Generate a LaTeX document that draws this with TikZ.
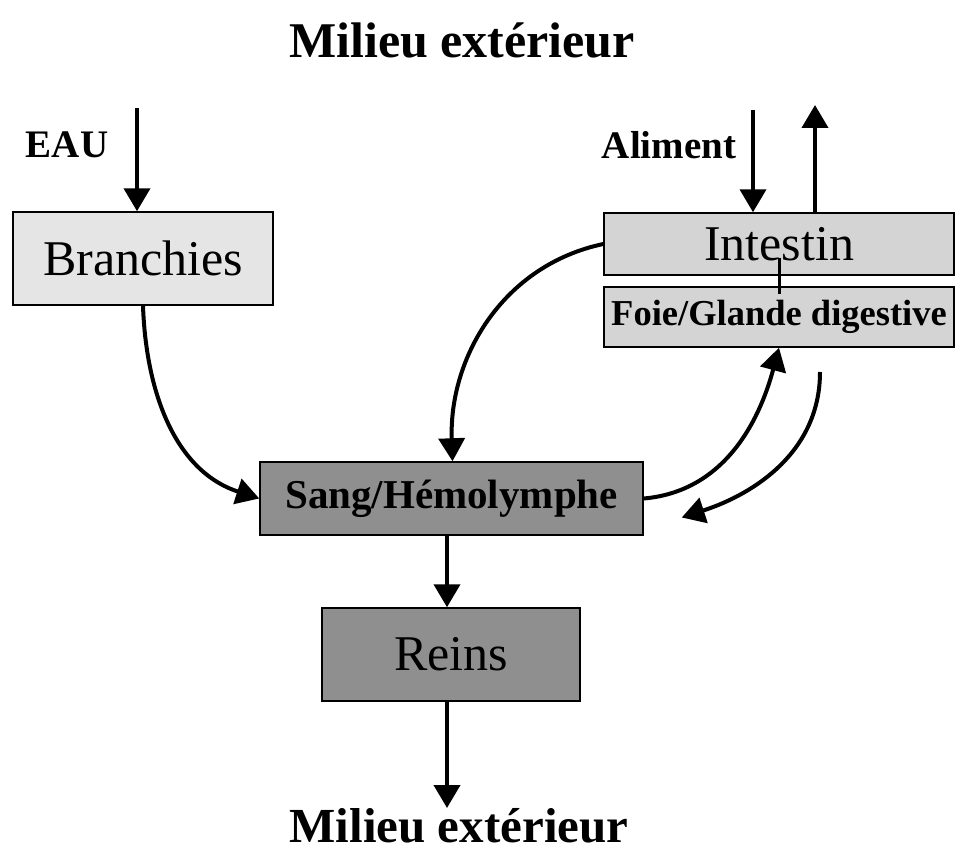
\documentclass[tikz,border=0pt]{standalone}
\usepackage{fontspec}
\setmainfont{Liberation Serif}
\usetikzlibrary{arrows.meta}

\definecolor{pale}{gray}{0.90}
\definecolor{mid}{gray}{0.83}
\definecolor{dark}{gray}{0.56}

\begin{document}
\begin{tikzpicture}[x=1pt, y=1pt,
	box/.style={rectangle, draw=black, line width=1.5pt, inner sep=0pt},
	big/.style={font=\fontsize{50}{55}\selectfont},
	arr/.style={draw=black, line width=4pt, -{Triangle[length=23pt,width=26pt]}}]
			\useasboundingbox (0,0) rectangle (956,-856);
			
			\node[font=\bfseries\fontsize{50}{55}\selectfont] (top) at (462,-40){Milieu extérieur};
			\node[font=\bfseries\fontsize{49}{54}\selectfont] (bot) at (459,-826){Milieu extérieur};
			\node[font=\bfseries\fontsize{39}{44}\selectfont] (eaulbl) at (67,-145){EAU};
			\node[font=\bfseries\fontsize{39}{44}\selectfont] (alim) at (669,-145){Aliment};
			
			\node[box, big, fill=pale, minimum width=260pt, minimum height=93pt] (bra) at (143,-258.5){Branchies};
			\node[box, big, fill=mid, minimum width=350pt, minimum height=62pt] (int) at (779,-244){Intestin};
			\node[box, fill=mid, minimum width=350pt, minimum height=60pt, font=\bfseries\fontsize{36.5}{40}\selectfont] (foie) at (779,-317){Foie/Glande digestive};
			\node[box, fill=dark, minimum width=383pt, minimum height=73pt, font=\bfseries\fontsize{41}{45}\selectfont] (sang) at (451.5,-498.5){Sang/Hémolymphe};
			\node[box, big, fill=dark, minimum width=258pt, minimum height=93pt] (reins) at (451,-654.5){Reins};
			
			\coordinate (eau) at (137,-108);
			\coordinate (food) at (753,-110);
			\coordinate (waste) at (815,-105);
			\coordinate (back) at (820,-372);
			\coordinate (out) at (447,-808);
			
			\path (eau) edge[arr] (eau |- bra.north);
			\path (food) edge[arr] (food |- int.north);
			\path (int.north -| waste) edge[arr] (waste);
			\path ([yshift=18pt]int.south) edge[line width=3pt] ([yshift=-8pt]foie.north);
			
			\path (bra.south) edge[arr, out=-88, in=162] (sang.west);
			\path (int.west) edge[arr, out=192, in=92] ([xshift=1pt]sang.north);
			\path (sang.east) edge[arr, out=5, in=-105] (foie.south);
			\path (back) edge[arr, out=-90, in=18] ([xshift=38pt,yshift=-19pt]sang.east);
			\path (sang.south -| out) edge[arr] (reins.north -| out);
			\path (reins.south -| out) edge[arr] (out);
			\end{tikzpicture}
\end{document}
